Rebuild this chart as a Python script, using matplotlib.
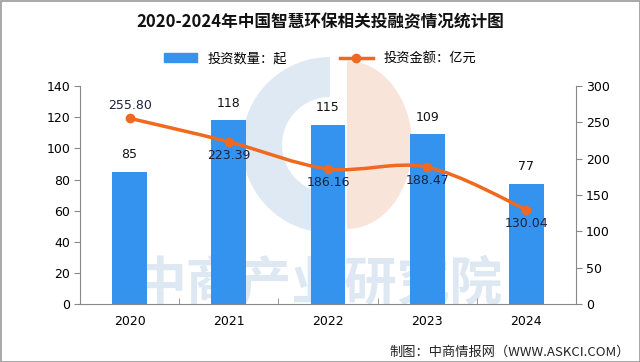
import numpy as np
import matplotlib
matplotlib.use("Agg")
import matplotlib.pyplot as plt
from matplotlib.path import Path
from matplotlib.patches import PathPatch, Wedge, Rectangle, Patch, Ellipse
from matplotlib.lines import Line2D

plt.rcParams["font.family"] = ["Noto Sans CJK SC", "DejaVu Sans"]

# 数据
years = ["2020", "2021", "2022", "2023", "2024"]
counts = [85, 118, 115, 109, 77]
amounts = [255.80, 223.39, 186.16, 188.47, 130.04]

BAR_C = "#3393EE"
LINE_C = "#F0691E"
LBL_C = "#1a2340"

fig = plt.figure(figsize=(6.4, 3.62), dpi=100)

# 背景水印层（像素坐标）
bg = fig.add_axes([0, 0, 1, 1], zorder=-1)
bg.set_xlim(0, 640)
bg.set_ylim(362, 0)
bg.axis("off")
bg.add_patch(Wedge((330, 145), 88, 90, 270, width=40, color="#dfe9f3", lw=0))
# 橙色半圆
orange = Ellipse((347, 145), 130, 168, color="#f9e4d9", lw=0)
bg.add_patch(orange)
bg.add_patch(Rectangle((280, 55), 67, 185, color="white", lw=0, zorder=0.5))
bg.patches[-1].set_visible(False)
orange.set_clip_path(Rectangle((347, 55), 100, 185, transform=bg.transData))
bg.text(318, 284, "中商产业研究院", fontsize=38, fontweight="bold", color="#dde8f3",
        ha="center", va="center")
# 外框
bg.add_patch(Rectangle((0.5, 0.5), 639, 361, fill=False, ec="#9a9a9a", lw=1.2))

ax = fig.add_axes([0.125, 0.160, 0.775, 0.602])
ax.set_facecolor("none")
x = np.arange(len(years))
ax.bar(x, counts, width=0.35, color=BAR_C, zorder=2)
for xi, v in zip(x, counts):
    ax.text(xi, v + 7, str(v), ha="center", va="bottom", fontsize=9,
            family="DejaVu Sans", color="#111111")
ax.set_xlim(-0.5, len(years) - 0.5)
ax.set_ylim(0, 140)
ax.set_yticks(range(0, 141, 20))
ax.set_xticks(x)
ax.set_xticklabels(years)
ax.set_xticks(np.arange(-0.5, len(years)), minor=True)
ax.tick_params(axis="x", which="major", length=0, pad=8)
ax.tick_params(axis="x", which="minor", length=4, direction="in", color="#888888")
ax.tick_params(axis="y", length=4, color="#888888", pad=3)
ax.tick_params(labelsize=9)
for lab in ax.get_xticklabels() + ax.get_yticklabels():
    lab.set_family("DejaVu Sans")
for s in ["top", "right"]:
    ax.spines[s].set_visible(False)
for s in ["left", "bottom"]:
    ax.spines[s].set_color("#888888")

ax2 = ax.twinx()
ax2.set_ylim(0, 300)
ax2.set_yticks(range(0, 301, 50))
ax2.tick_params(axis="y", length=4, color="#888888", labelsize=9, pad=3)
for lab in ax2.get_yticklabels():
    lab.set_family("DejaVu Sans")
for s in ["top", "left", "bottom"]:
    ax2.spines[s].set_visible(False)
ax2.spines["right"].set_color("#888888")

# 平滑折线（Catmull-Rom 转三次贝塞尔）
pts = np.column_stack([x, amounts])
verts = [tuple(pts[0])]
codes = [Path.MOVETO]
for i in range(len(pts) - 1):
    p0 = pts[i - 1] if i > 0 else pts[i]
    p1, p2 = pts[i], pts[i + 1]
    p3 = pts[i + 2] if i + 2 < len(pts) else pts[i + 1]
    c1 = p1 + (p2 - p0) / 6
    c2 = p2 - (p3 - p1) / 6
    verts += [tuple(c1), tuple(c2), tuple(p2)]
    codes += [Path.CURVE4] * 3
ax2.add_patch(PathPatch(Path(verts, codes), fill=False, ec=LINE_C, lw=2.5, zorder=3))
ax2.plot(x, amounts, "o", color=LINE_C, ms=6, zorder=4)
for i, (xi, v) in enumerate(zip(x, amounts)):
    if i == 0:
        ax2.text(xi, v + 8, f"{v:.2f}", ha="center", va="bottom", fontsize=9,
                 family="DejaVu Sans", color=LBL_C)
    else:
        ax2.text(xi, v - 10, f"{v:.2f}", ha="center", va="top", fontsize=9,
                 family="DejaVu Sans", color=LBL_C)

fig.text(0.5, 0.938, "2020-2024年中国智慧环保相关投融资情况统计图", ha="center", va="center",
         fontsize=12, fontweight="bold", color="#111111")

handles = [Patch(color=BAR_C),
           Line2D([], [], color=LINE_C, lw=2.5, marker="o", ms=6)]
fig.legend(handles, ["投资数量：起", "投资金额：亿元"], loc="center", bbox_to_anchor=(0.5, 0.838),
           ncol=2, frameon=False, fontsize=9.5, columnspacing=4, handlelength=2.5)

fig.text(0.985, 0.027, "制图：中商情报网（WWW.ASKCI.COM）", ha="right", va="center",
         fontsize=9.5, color="#222222")

fig.savefig("out.png", dpi=100)
